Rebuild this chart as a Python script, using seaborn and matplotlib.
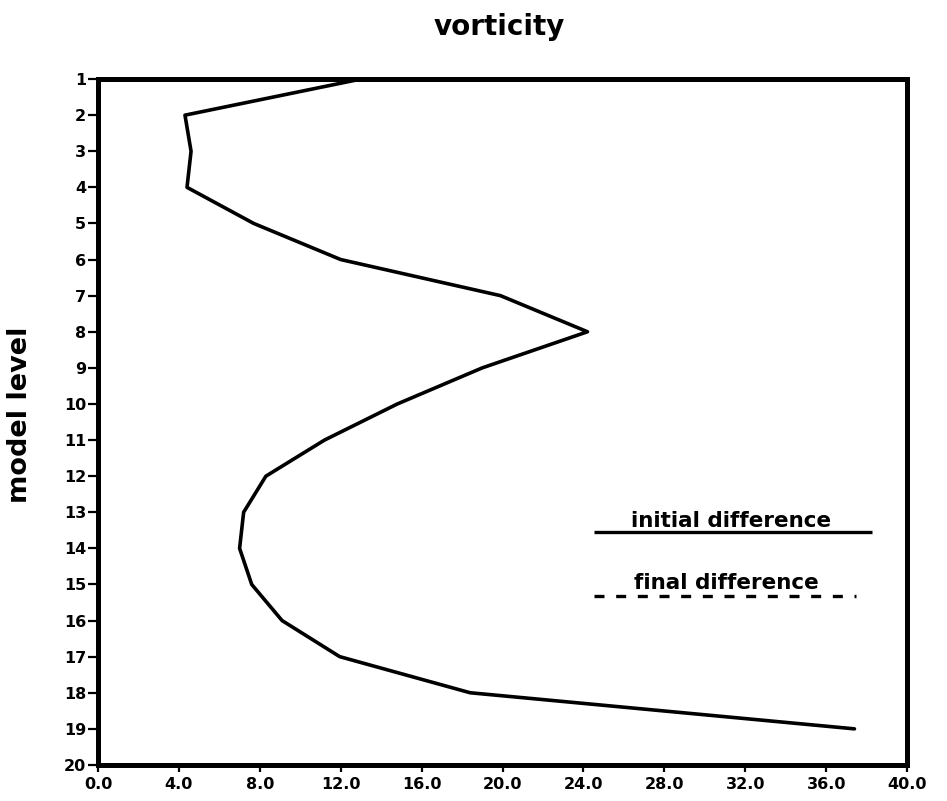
import matplotlib
matplotlib.use("Agg")
import matplotlib.pyplot as plt
import seaborn as sns
import pandas as pd
import numpy as np

# ---- data ----
levels = list(range(1, 20))
initial_difference = [13.0, 4.3, 4.6, 4.4, 7.7, 12.0, 19.9, 24.2, 19.0, 14.8,
                      11.2, 8.3, 7.2, 7.0, 7.6, 9.1, 11.95, 18.4, 37.4]
x_ticks = [0, 4, 8, 12, 16, 20, 24, 28, 32, 36, 40]
x_tick_labels = ["0.0", "4.0", "8.0", "12.0", "16.0", "20.0", "24.0",
                 "28.0", "32.0", "36.0", "40.0"]
y_ticks = list(range(1, 21))
title = "vorticity"
ylabel = "model level"
legend_labels = ["initial difference", "final difference"]

df = pd.DataFrame({"level": levels, "value": initial_difference})

sns.set_style("white")
plt.rcParams["font.family"] = ["DejaVu Sans"]
plt.rcParams["font.weight"] = "bold"
plt.rcParams["text.color"] = "black"
plt.rcParams["xtick.color"] = "black"
plt.rcParams["ytick.color"] = "black"
plt.rcParams["axes.labelcolor"] = "black"

fig = plt.figure(figsize=(9.47, 8.01), dpi=100)
ax = fig.add_axes([0.1035, 0.0450, 0.8543, 0.8563])

sns.lineplot(data=df, x="value", y="level", sort=False, estimator=None,
             color="black", linewidth=2.6, ax=ax)

ax.set_xlim(0, 40)
ax.set_ylim(20, 1)
ax.set_xticks(x_ticks)
ax.set_xticklabels(x_tick_labels, fontsize=11.5, fontweight="bold")
ax.set_yticks(y_ticks)
ax.set_yticklabels([str(v) for v in y_ticks], fontsize=11.5, fontweight="bold")
ax.tick_params(axis="x", direction="out", length=5, width=1.6, pad=4,
               bottom=True, color="black", labelcolor="black")
ax.tick_params(axis="y", direction="out", length=7, width=1.6, pad=1.5,
               left=True, color="black", labelcolor="black")
ax.set_xlabel("")
ax.set_ylabel("")
for s in ax.spines.values():
    s.set_visible(True)
    s.set_color("black")
    s.set_linewidth(3.6)

# legend drawn as text with a line beneath
ax.text(0.783, 0.347, legend_labels[0], transform=ax.transAxes, ha="center",
        va="baseline", fontsize=15.5, fontweight="bold", color="black")
ax.plot([0.613, 0.957], [0.339, 0.339], transform=ax.transAxes,
        color="black", linewidth=2.4, solid_capstyle="butt")
ax.text(0.777, 0.256, legend_labels[1], transform=ax.transAxes, ha="center",
        va="baseline", fontsize=15.5, fontweight="bold", color="black")
ax.plot([0.613, 0.937], [0.246, 0.246], transform=ax.transAxes,
        color="black", linewidth=2.4, linestyle=(0, (3, 3.5)),
        dash_capstyle="butt")

fig.text(0.527, 0.956, title, ha="center", va="baseline",
         fontsize=20, fontweight="bold", color="black")
fig.text(0.021, 0.482, ylabel, rotation=90, ha="center", va="center",
         fontsize=19.5, fontweight="bold", color="black")

fig.savefig("out.png", dpi=100, facecolor="white")
